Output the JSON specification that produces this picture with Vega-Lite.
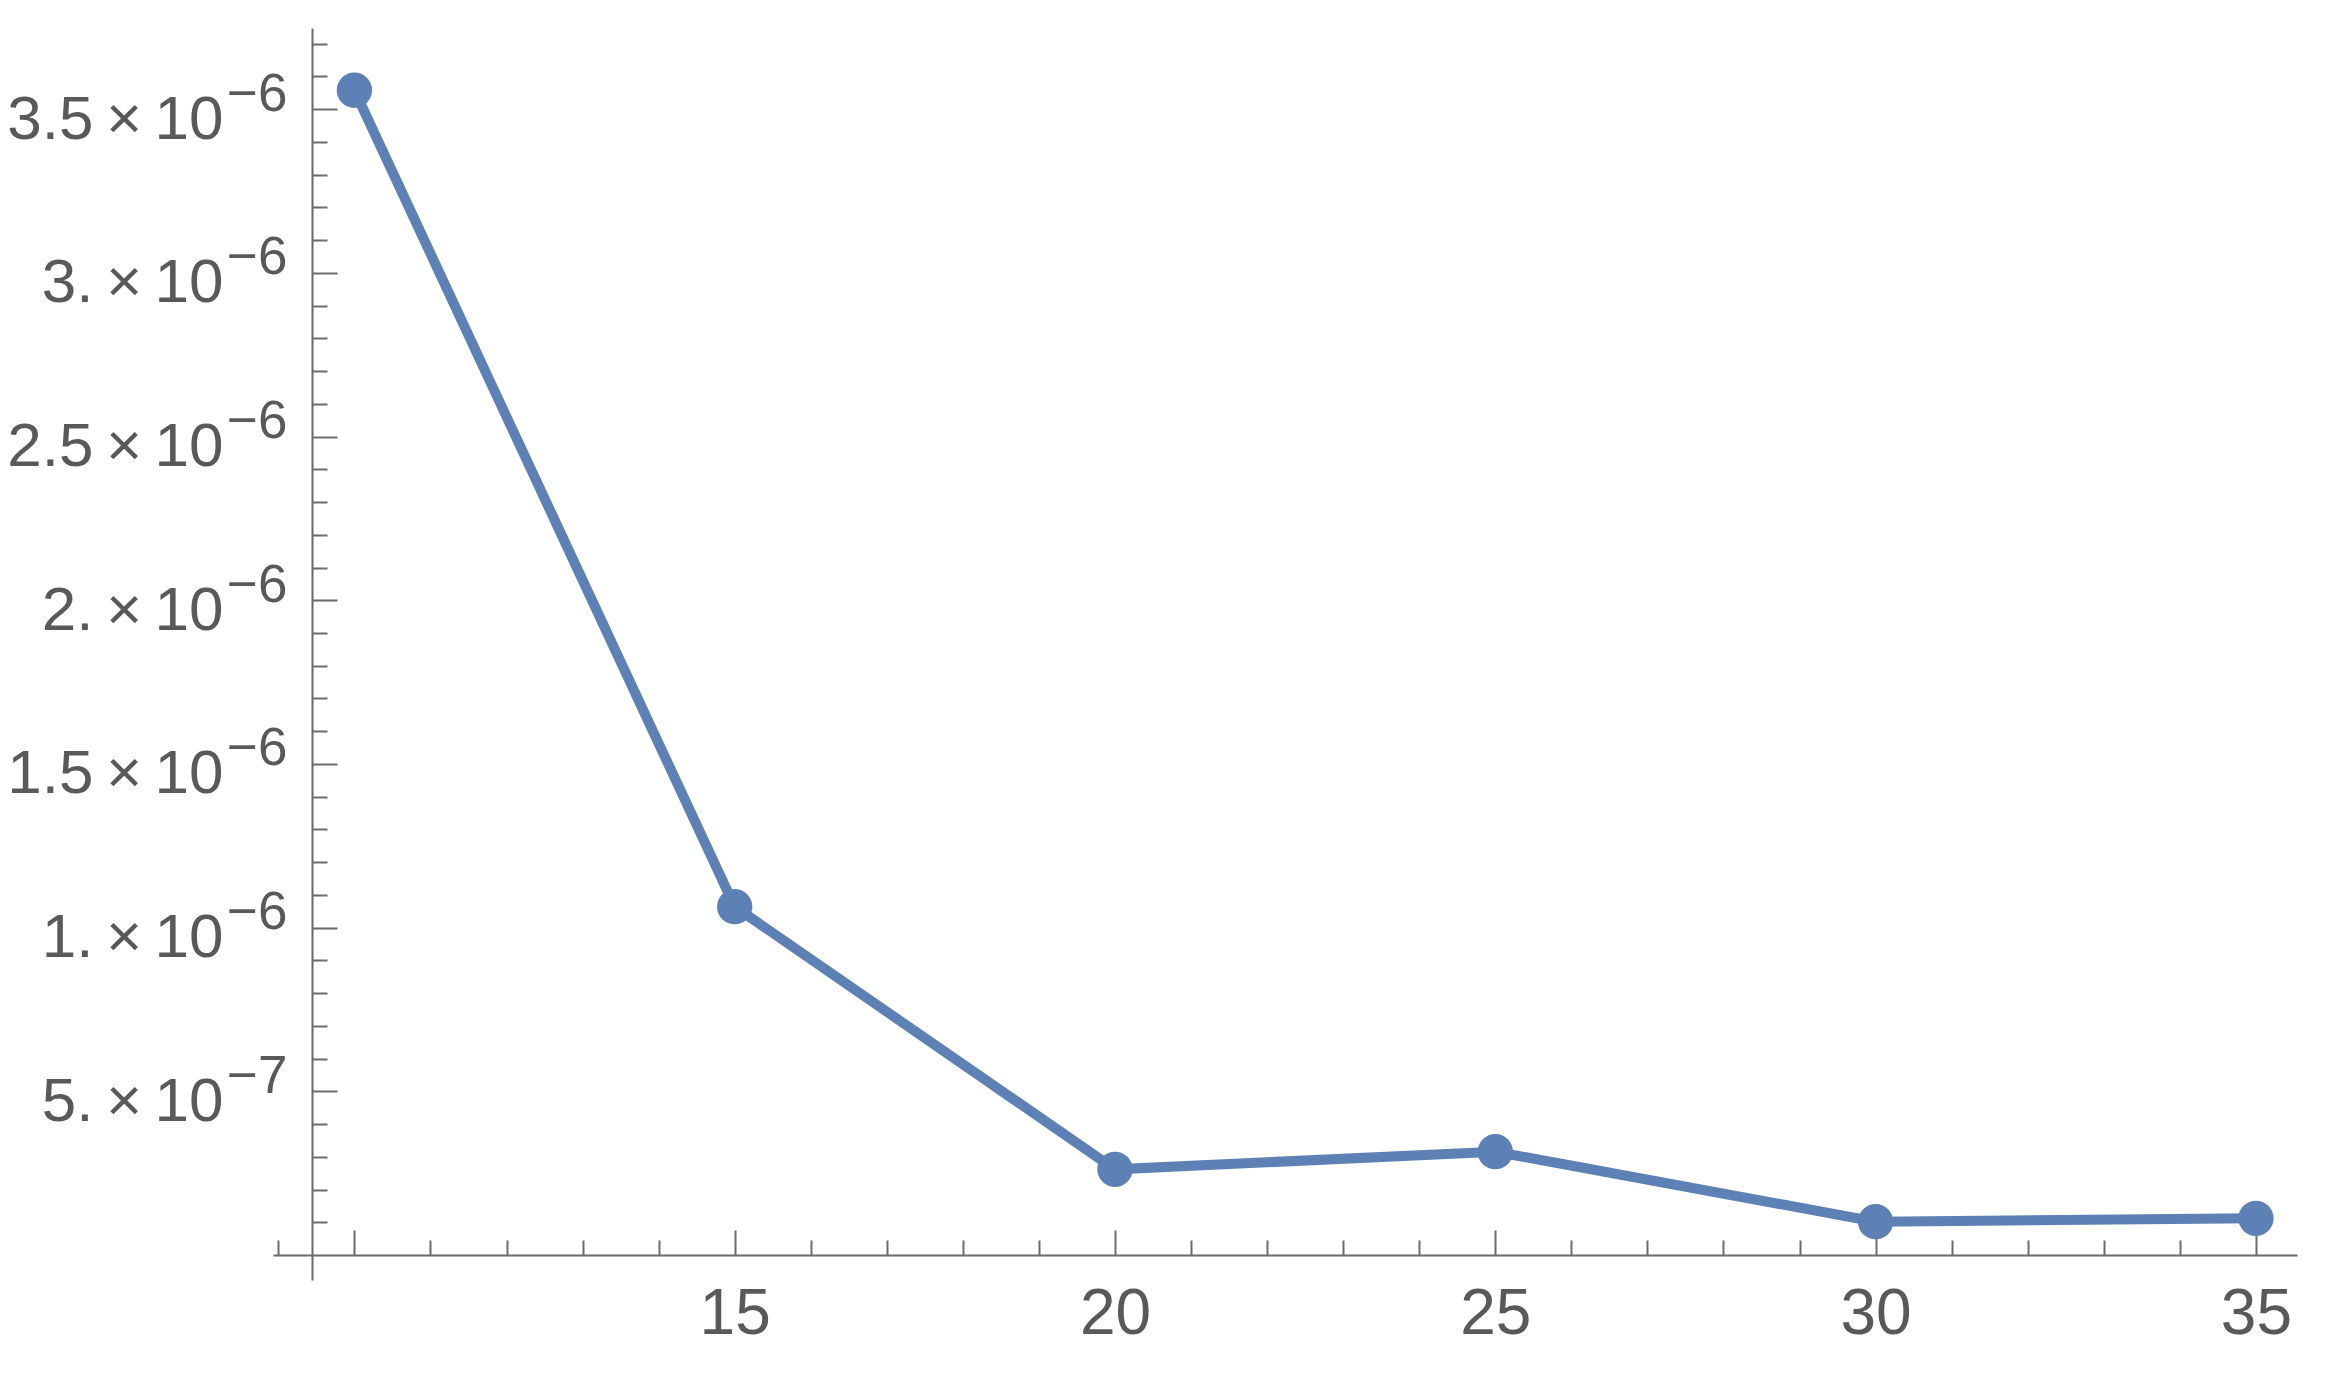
{
  "$schema": "https://vega.github.io/schema/vega-lite/v6.json",
  "width": 2024,
  "height": 1252,
  "autosize": {"type": "none"},
  "padding": {"left": 273, "top": 28, "right": 33, "bottom": 93},
  "background": "white",
  "config": {
    "view": {"stroke": null},
    "axis": {
      "grid": false,
      "domainColor": "#6b6b6b",
      "tickColor": "#6b6b6b",
      "labelColor": "#595959",
      "labelFont": "Liberation Sans",
      "domainWidth": 2,
      "tickWidth": 2,
      "labelOverlap": false,
      "labelFlush": false,
      "labelBound": false,
      "labelLimit": 0
    }
  },
  "data": {
    "values": [
      {"n": 10, "v": 3.558e-6},
      {"n": 15, "v": 1.064e-6},
      {"n": 20, "v": 2.617e-7},
      {"n": 25, "v": 3.156e-7},
      {"n": 30, "v": 1.018e-7},
      {"n": 35, "v": 1.12e-7}
    ]
  },
  "resolve": {"axis": {"y": "independent"}},
  "layer": [
    {
      "mark": {"type": "line", "color": "#5E81B5", "strokeWidth": 10},
      "encoding": {
        "x": {
          "field": "n",
          "type": "quantitative",
          "scale": {"domain": [8.93, 35.54], "nice": false, "zero": false},
          "axis": {
            "title": null,
            "orient": "bottom",
            "offset": -25,
            "values": [9,10,11,12,13,14,15,16,17,18,19,20,21,22,23,24,25,26,27,28,29,30,31,32,33,34,35],
            "tickSize": {"condition": {"test": "datum.value % 5 === 0", "value": -25}, "value": -15},
            "labelOverlap": false,
            "labelLimit": 0,
            "labelPadding": 52,
            "labelFontSize": 64,
            "labelBaseline": "top",
            "labelAlign": "center",
            "labelExpr": "datum.value % 5 === 0 && datum.value >= 15 ? format(datum.value, 'd') : ''"
          }
        },
        "y": {
          "field": "v",
          "type": "quantitative",
          "scale": {"domain": [-7.64e-8, 3.748e-6], "nice": false, "zero": false},
          "axis": {
            "title": null,
            "orient": "left",
            "offset": -39,
            "values": [1e-7,2e-7,3e-7,4e-7,5e-7,6e-7,7e-7,8e-7,9e-7,1e-6,1.1e-6,1.2e-6,1.3e-6,1.4e-6,1.5e-6,1.6e-6,1.7e-6,1.8e-6,1.9e-6,2e-6,2.1e-6,2.2e-6,2.3e-6,2.4e-6,2.5e-6,2.6e-6,2.7e-6,2.8e-6,2.9e-6,3e-6,3.1e-6,3.2e-6,3.3e-6,3.4e-6,3.5e-6,3.6e-6,3.7e-6],
            "tickSize": {"condition": {"test": "round(datum.value*1e7) % 5 === 0", "value": -25}, "value": -15},
            "labelOverlap": false,
            "labelLimit": 0,
            "labelPadding": 114,
            "labelAlign": "right",
            "labelBaseline": "alphabetic",
            "labelOffset": 29,
            "labelFontSize": 62,
            "labelExpr": "round(datum.value*1e7) % 5 !== 0 ? '' : (round(datum.value*1e7) >= 10 ? replace(format(round(datum.value*1e7)/10, '.1f'), '.0', '.') : format(round(datum.value*1e7), 'd') + '.') + '\u2009\u00d7\u200910'"
          }
        }
      }
    },
    {
      "mark": {"type": "point", "filled": true, "opacity": 1, "color": "#5E81B5", "size": 1250},
      "encoding": {
        "x": {"field": "n", "type": "quantitative"},
        "y": {
          "field": "v",
          "type": "quantitative",
          "axis": {
            "title": null,
            "orient": "left",
            "offset": -39,
            "domain": false,
            "ticks": false,
            "tickSize": 0,
            "values": [5e-7,1e-6,1.5e-6,2e-6,2.5e-6,3e-6,3.5e-6],
            "labelOverlap": false,
            "labelLimit": 0,
            "labelPadding": 25,
            "labelAlign": "right",
            "labelBaseline": "alphabetic",
            "labelOffset": 1,
            "labelFontSize": 53,
            "labelExpr": "datum.value > 9.9e-7 ? '\u22126' : '\u22127'"
          }
        }
      }
    }
  ]
}
